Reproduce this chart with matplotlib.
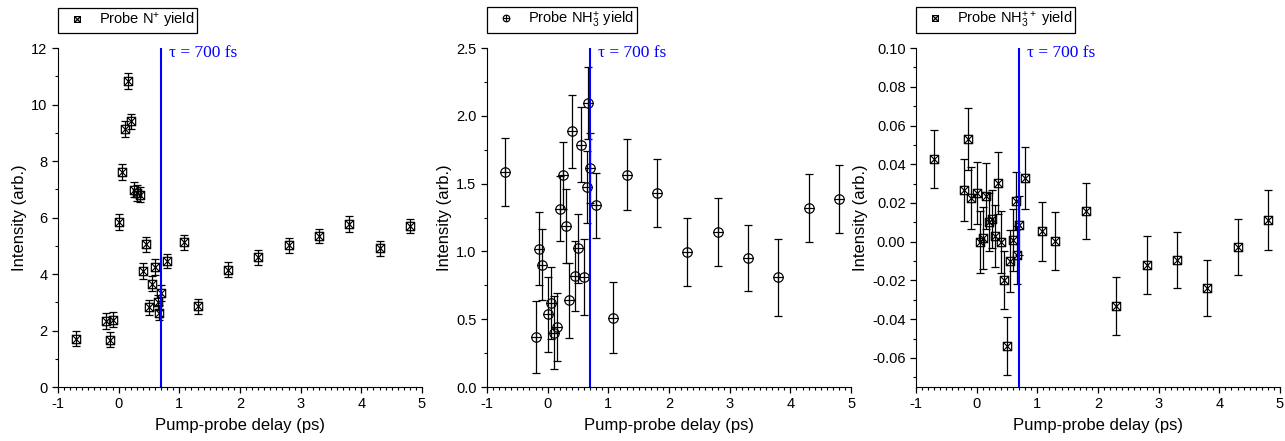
import matplotlib
matplotlib.use("Agg")
import matplotlib.pyplot as plt
import numpy as np
from matplotlib.path import Path
from matplotlib.ticker import MultipleLocator, FormatStrFormatter

plt.rcParams['font.family'] = ['Liberation Sans', 'DejaVu Sans']
plt.rcParams['mathtext.fontset'] = 'custom'
plt.rcParams['mathtext.rm'] = 'Liberation Sans'
plt.rcParams['mathtext.it'] = 'Liberation Sans'
plt.rcParams['axes.unicode_minus'] = False

# delays (ps)
delay = [-0.7, -0.2, -0.15, -0.1, 0.0, 0.05, 0.1, 0.15, 0.2, 0.25, 0.3, 0.35, 0.4, 0.45, 0.5,
         0.55, 0.6, 0.65, 0.67, 0.7, 0.8, 1.08, 1.3, 1.8, 2.3, 2.8, 3.3, 3.8, 4.3, 4.8]

n_plus = [1.71, 2.34, 1.68, 2.38, 5.84, 7.61, 9.12, 10.84, 9.40, 6.99, 6.87, 6.81, 4.11, 5.05, 2.82,
          3.66, 4.25, 3.00, 2.63, 3.33, 4.45, 5.12, 2.86, 4.15, 4.59, 5.01, 5.35, 5.77, 4.91, 5.70]
n_plus_err = [0.26, 0.27, 0.27, 0.27, 0.28, 0.28, 0.28, 0.28, 0.27, 0.27, 0.27, 0.27, 0.27, 0.27, 0.27,
              0.27, 0.28, 0.27, 0.26, 0.27, 0.25, 0.26, 0.27, 0.27, 0.27, 0.27, 0.24, 0.29, 0.27, 0.26]

nh3_plus = [1.586, 0.369, 1.02, 0.902, 0.536, 0.619, 0.40, 0.44, 1.315, 1.56, 1.187, 0.639, 1.885, 0.819, 1.023,
            1.787, 0.811, 1.475, 2.097, 1.615, 1.342, 0.511, 1.566, 1.428, 0.993, 1.143, 0.951, 0.809, 1.320, 1.386]
nh3_plus_err = [0.25, 0.265, 0.268, 0.26, 0.275, 0.266, 0.27, 0.25, 0.24, 0.25, 0.27, 0.275, 0.27, 0.26, 0.255,
                0.275, 0.28, 0.265, 0.265, 0.26, 0.24, 0.26, 0.26, 0.25, 0.25, 0.25, 0.245, 0.285, 0.25, 0.25]

nh3_pp = [0.0425, 0.0269, 0.0530, 0.0225, 0.0251, -0.0003, 0.0021, 0.0234, 0.0102, 0.0119, 0.0031, 0.0303, 0.0,
          -0.0196, -0.0539, -0.0100, 0.0007, 0.0210, -0.0067, 0.0084, 0.0329, 0.0053, 0.0005, 0.0157, -0.0332,
          -0.0122, -0.0096, -0.0239, -0.0028, 0.0112]
nh3_pp_err = [0.015, 0.016, 0.016, 0.016, 0.016, 0.016, 0.016, 0.017, 0.015, 0.015, 0.016, 0.016, 0.016,
              0.015, 0.015, 0.016, 0.016, 0.015, 0.015, 0.015, 0.016, 0.015, 0.015, 0.0145, 0.015,
              0.015, 0.0145, 0.0145, 0.0145, 0.0155]

tau = 0.7

# square with X, circle with plus
sq_x = Path([(-1, -1), (1, -1), (1, 1), (-1, 1), (-1, -1), (-1, -1), (1, 1), (-1, 1), (1, -1)],
            [Path.MOVETO, Path.LINETO, Path.LINETO, Path.LINETO, Path.CLOSEPOLY,
             Path.MOVETO, Path.LINETO, Path.MOVETO, Path.LINETO])
circ = Path.unit_circle()
circ_plus = Path.make_compound_path(circ, Path([(-1, 0), (1, 0)]), Path([(0, -1), (0, 1)]))

panels = [
    (n_plus, n_plus_err, sq_x, r'Probe N$^{+}$ yield', (0, 12), 2, 1, '%d'),
    (nh3_plus, nh3_plus_err, circ_plus, r'Probe NH$_3^{+}$ yield', (0, 2.5), 0.5, 0.25, '%.1f'),
    (nh3_pp, nh3_pp_err, sq_x, r'Probe NH$_3^{++}$ yield', (-0.075, 0.10), 0.02, 0.01, '%.2f'),
]
lefts = [0.0451, 0.379, 0.7128]

fig = plt.figure(figsize=(12.85, 4.41), dpi=100)
for (y, e, mk, lab, ylim, maj, mnr, fmt), l in zip(panels, lefts):
    ax = fig.add_axes([l, 0.1224, 0.2833, 0.7687])
    ms = 6.8 if mk is circ_plus else 6.0
    ax.errorbar(delay, y, yerr=e, fmt='none', ecolor='black', elinewidth=0.9, capsize=3, capthick=0.9)
    pt, = ax.plot(delay, y, linestyle='none', marker=mk, markersize=ms, markerfacecolor='none',
                  markeredgecolor='black', markeredgewidth=0.85, label=lab)
    ax.axvline(tau, color='#0000ff', lw=1.5)
    ax.text(tau + 0.13, 1.008, r'τ = 700 fs', color='#0000ff', transform=ax.get_xaxis_transform(),
            family='Liberation Serif', fontsize=12.5, va='top', ha='left')
    ax.set_xlim(-1, 5)
    ax.set_ylim(*ylim)
    ax.spines['top'].set_visible(False)
    ax.spines['right'].set_visible(False)
    ax.xaxis.set_major_locator(MultipleLocator(1))
    ax.xaxis.set_minor_locator(MultipleLocator(0.1))
    ax.yaxis.set_major_locator(MultipleLocator(maj))
    ax.yaxis.set_minor_locator(MultipleLocator(mnr))
    ax.yaxis.set_major_formatter(FormatStrFormatter(fmt))
    ax.tick_params(which='major', direction='out', length=4, width=0.9, labelsize=10.5)
    ax.tick_params(which='minor', direction='out', length=2.5, width=0.8)
    ax.set_xlabel('Pump-probe delay (ps)', fontsize=12, labelpad=5)
    ax.set_ylabel('Intensity (arb.)', fontsize=12, labelpad=3)
    leg = ax.legend(handles=[pt], loc='lower left', bbox_to_anchor=(0.0, 1.045), fontsize=10.5,
                    frameon=True, fancybox=False, edgecolor='black', framealpha=1,
                    handlelength=2.2, handletextpad=0.4, borderpad=0.2, borderaxespad=0,
                    markerscale=0.7)
    leg.get_frame().set_linewidth(0.9)

fig.savefig('out.png', dpi=100)
